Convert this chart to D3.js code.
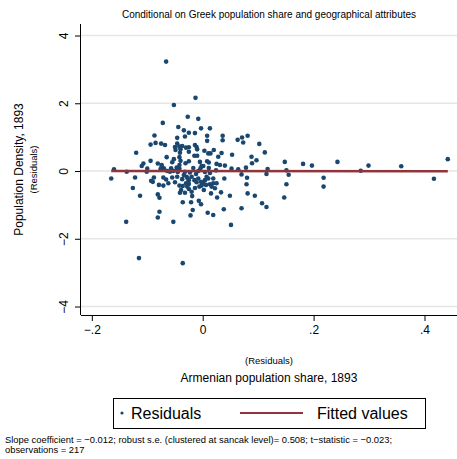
<!DOCTYPE html>
<html>
<head>
<meta charset="utf-8">
<script src="https://cdn.jsdelivr.net/npm/d3@7"></script>
<style>
  body { margin: 0; background: #fff; }
  text { font-family: "Liberation Sans", Arial, Helvetica, sans-serif; }
</style>
</head>
<body>
<div id="chart"></div>
<script>
// residuals, Armenian share (x) vs population density (y)
var resid_x = [-0.066,-0.052,-0.027,-0.072,-0.044,-0.034,-0.025,-0.087,-0.046,-0.032,
  -0.094,-0.085,-0.075,-0.068,-0.046,-0.050,-0.042,-0.037,-0.030,-0.025,
  -0.049,-0.040,-0.120,-0.041,-0.025,-0.065,-0.052,-0.042,-0.094,-0.055,
  -0.040,-0.025,-0.107,-0.110,-0.081,-0.074,-0.042,-0.031,-0.100,-0.074,
  -0.070,-0.076,-0.057,-0.047,-0.042,-0.160,-0.013,-0.008,-0.014,-0.003,
  0.013,0.008,0.008,0.036,0.036,0.063,0.071,0.081,0.073,0.102,
  0.112,-0.014,-0.011,-0.010,0.003,0.010,0.014,0.020,-0.015,-0.010,
  0.028,0.034,0.053,0.088,-0.005,0.008,0.011,0.025,0.031,0.040,
  0.097,0.089,-0.002,-0.004,0.052,0.064,0.078,0.148,0.024,-0.137,
  -0.165,-0.122,-0.101,-0.126,-0.113,-0.093,-0.088,-0.090,-0.079,-0.081,
  -0.078,-0.071,-0.071,-0.062,-0.066,-0.055,-0.050,-0.046,-0.042,-0.039,
  -0.041,-0.032,-0.064,-0.059,-0.053,-0.046,-0.034,-0.029,-0.025,-0.030,
  -0.028,-0.025,-0.036,-0.078,-0.081,-0.053,-0.138,-0.115,-0.036,-0.022,
  -0.032,-0.023,-0.020,-0.027,-0.015,-0.011,-0.008,-0.003,0.001,0.004,
  0.007,0.010,0.006,0.013,0.016,0.019,0.022,0.025,0.019,-0.006,
  -0.002,0.001,0.039,0.070,0.080,0.079,0.117,0.115,-0.020,-0.019,
  0.015,0.033,0.026,0.049,0.081,0.094,0.147,-0.007,-0.003,-0.021,
  -0.018,0.009,0.019,0.038,0.070,0.107,0.115,0.051,0.181,0.197,
  0.151,0.155,0.151,0.243,0.218,0.218,0.285,0.299,0.358,0.417,
  0.442,-0.017,-0.012,-0.037,-0.025,-0.014,0.004,0.013,-0.045,-0.036,
  -0.008,0.002,0.011];
var resid_y = [3.23,1.95,1.60,1.42,1.30,1.20,1.13,1.05,0.98,1.02,
  0.78,0.83,0.81,0.77,0.81,0.71,0.72,0.74,0.69,0.70,
  0.62,0.64,0.54,0.54,0.57,0.41,0.35,0.41,0.30,0.26,
  0.30,0.29,0.22,0.15,0.22,0.18,0.18,0.23,0.07,0.13,
  0.08,0.06,0.08,0.10,0.07,0.05,2.16,1.54,1.12,1.26,
  1.26,1.04,0.89,1.04,0.91,0.92,0.99,1.04,0.84,0.80,
  0.55,0.77,0.71,0.64,0.60,0.52,0.52,0.62,0.45,0.45,
  0.42,0.53,0.48,0.42,0.27,0.29,0.25,0.21,0.18,0.16,
  0.32,0.23,0.15,0.08,0.07,0.05,0.10,0.27,0.02,-0.02,
  -0.22,-0.19,-0.02,-0.50,-0.73,-0.29,-0.19,-0.32,-0.41,-0.69,
  -0.79,-0.19,-0.43,-0.36,-0.25,-0.19,-0.33,-0.17,-0.43,-0.56,
  -0.64,-0.64,0.00,-0.02,0.00,0.06,-0.12,-0.17,-0.27,-0.36,
  -0.46,-0.53,-0.92,-1.20,-1.37,-1.50,-1.50,-2.57,-2.72,-1.31,
  -0.02,-0.04,-0.17,-0.22,-0.27,-0.33,-0.22,-0.32,-0.36,-0.27,
  -0.17,-0.22,-0.41,-0.39,-0.46,-0.36,-0.51,-0.36,-0.22,-0.46,
  -0.43,0.15,-0.22,-0.10,-0.20,-0.39,0.06,-0.09,-0.61,-0.74,
  -0.66,-0.63,-0.78,-0.73,-0.66,-0.73,-0.78,-0.88,-0.98,-0.92,
  -1.15,-1.23,-1.30,-1.13,-1.10,-0.95,-1.06,-1.59,0.21,0.16,
  0.02,-0.11,-0.39,0.27,-0.20,-0.46,0.01,0.16,0.14,-0.23,
  0.35,0.09,-0.09,-0.24,-0.38,-0.50,-0.03,-0.06,-0.03,-0.44,
  0.00,-0.56,0.09];

// fitted line end points
var fit_x = [-0.165, 0.442];
var fit_y = [0.002, -0.005];

var x_ticks = [-0.2, 0, 0.2, 0.4];
var x_tick_labels = ["\u2212.2", "0", ".2", ".4"];
var y_ticks = [-4, -2, 0, 2, 4];
var y_tick_labels = ["\u22124", "\u22122", "0", "2", "4"];

var navy = "#1a476f",
    maroon = "#90353b";

var width = 457, height = 459;
var plot = {left: 81, right: 457, top: 24, bottom: 315};

var svg = d3.select("#chart")
    .append("svg")
    .attr("width", width)
    .attr("height", height);

var x = d3.scaleLinear()
    .domain([-0.2195, 0.4586])
    .range([plot.left, plot.right]);

var y = d3.scaleLinear()
    .domain([-4.25, 4.34])
    .range([plot.bottom, plot.top]);

// grid lines
svg.append("g")
    .selectAll("line")
    .data(y_ticks)
    .enter()
    .append("line")
    .attr("x1", plot.left)
    .attr("x2", plot.right)
    .attr("y1", function(d) { return y(d); })
    .attr("y2", function(d) { return y(d); })
    .attr("stroke", "#e6e6e6")
    .attr("stroke-width", 1.4);

// residual points
var pts = resid_x.map(function(d, i) { return {x: d, y: resid_y[i]}; });

svg.append("g")
    .selectAll("circle")
    .data(pts)
    .enter()
    .append("circle")
    .attr("cx", function(d) { return x(d.x); })
    .attr("cy", function(d) { return y(d.y); })
    .attr("r", 2.3)
    .attr("fill", navy);

// fitted values
svg.append("line")
    .attr("x1", x(fit_x[0]))
    .attr("x2", x(fit_x[1]))
    .attr("y1", y(fit_y[0]))
    .attr("y2", y(fit_y[1]))
    .attr("stroke", maroon)
    .attr("stroke-width", 2.6);

// axes
var xAxis = d3.axisBottom(x)
    .tickValues(x_ticks)
    .tickSize(6)
    .tickFormat(function(d, i) { return x_tick_labels[i]; });

var gx = svg.append("g")
    .attr("transform", "translate(0," + plot.bottom + ")")
    .call(xAxis);
gx.select(".domain").attr("d", "M" + plot.left + ",0.5H" + plot.right).attr("stroke", "#000");
gx.selectAll(".tick line").attr("stroke", "#000");
gx.selectAll(".tick text")
    .attr("y", 19)
    .attr("dy", null)
    .attr("font-size", "12px")
    .attr("font-family", "Liberation Sans, Arial, sans-serif")
    .attr("fill", "#000");

var yAxis = d3.axisLeft(y)
    .tickValues(y_ticks)
    .tickSize(6)
    .tickFormat(function(d, i) { return y_tick_labels[i]; });

var gy = svg.append("g")
    .attr("transform", "translate(" + plot.left + ",0)")
    .call(yAxis);
gy.select(".domain").attr("d", "M-0.5," + plot.top + "V" + plot.bottom).attr("stroke", "#000");
gy.selectAll(".tick line").attr("stroke", "#000");
gy.selectAll(".tick text")
    .attr("x", null)
    .attr("dy", null)
    .attr("transform", "translate(-13,0) rotate(-90)")
    .attr("text-anchor", "middle")
    .attr("font-size", "12px")
    .attr("font-family", "Liberation Sans, Arial, sans-serif")
    .attr("fill", "#000");

var midX = (plot.left + plot.right) / 2,
    midY = (plot.top + plot.bottom) / 2;

// titles
svg.append("text")
    .attr("x", midX)
    .attr("y", 18)
    .attr("text-anchor", "middle")
    .attr("font-size", "10px")
    .text("Conditional on Greek population share and geographical attributes");

svg.append("text")
    .attr("transform", "translate(23," + midY + ") rotate(-90)")
    .attr("text-anchor", "middle")
    .attr("font-size", "12px")
    .text("Population Density, 1893");

svg.append("text")
    .attr("transform", "translate(37," + midY + ") rotate(-90)")
    .attr("text-anchor", "middle")
    .attr("font-size", "9.5px")
    .text("(Residuals)");

svg.append("text")
    .attr("x", midX)
    .attr("y", 364)
    .attr("text-anchor", "middle")
    .attr("font-size", "9.5px")
    .text("(Residuals)");

svg.append("text")
    .attr("x", midX)
    .attr("y", 382)
    .attr("text-anchor", "middle")
    .attr("font-size", "12px")
    .text("Armenian population share, 1893");

// legend
var legend = svg.append("g");
legend.append("rect")
    .attr("x", 113.5)
    .attr("y", 398.5)
    .attr("width", 312)
    .attr("height", 30)
    .attr("fill", "#fff")
    .attr("stroke", "#000")
    .attr("stroke-width", 1);
legend.append("circle")
    .attr("cx", 122)
    .attr("cy", 413)
    .attr("r", 1.6)
    .attr("fill", navy);
legend.append("text")
    .attr("x", 131)
    .attr("y", 419)
    .attr("font-size", "16px")
    .text("Residuals");
legend.append("line")
    .attr("x1", 240)
    .attr("x2", 303)
    .attr("y1", 413)
    .attr("y2", 413)
    .attr("stroke", maroon)
    .attr("stroke-width", 2);
legend.append("text")
    .attr("x", 317)
    .attr("y", 419)
    .attr("font-size", "16px")
    .text("Fitted values");

// note
svg.append("text")
    .attr("x", 5)
    .attr("y", 443)
    .attr("font-size", "9.4px")
    .text("Slope coefficient = \u22120.012; robust s.e. (clustered at sancak level)= 0.508; t\u2212statistic = \u22120.023;");
svg.append("text")
    .attr("x", 5)
    .attr("y", 453)
    .attr("font-size", "9.4px")
    .text("observations = 217");
</script>
</body>
</html>
